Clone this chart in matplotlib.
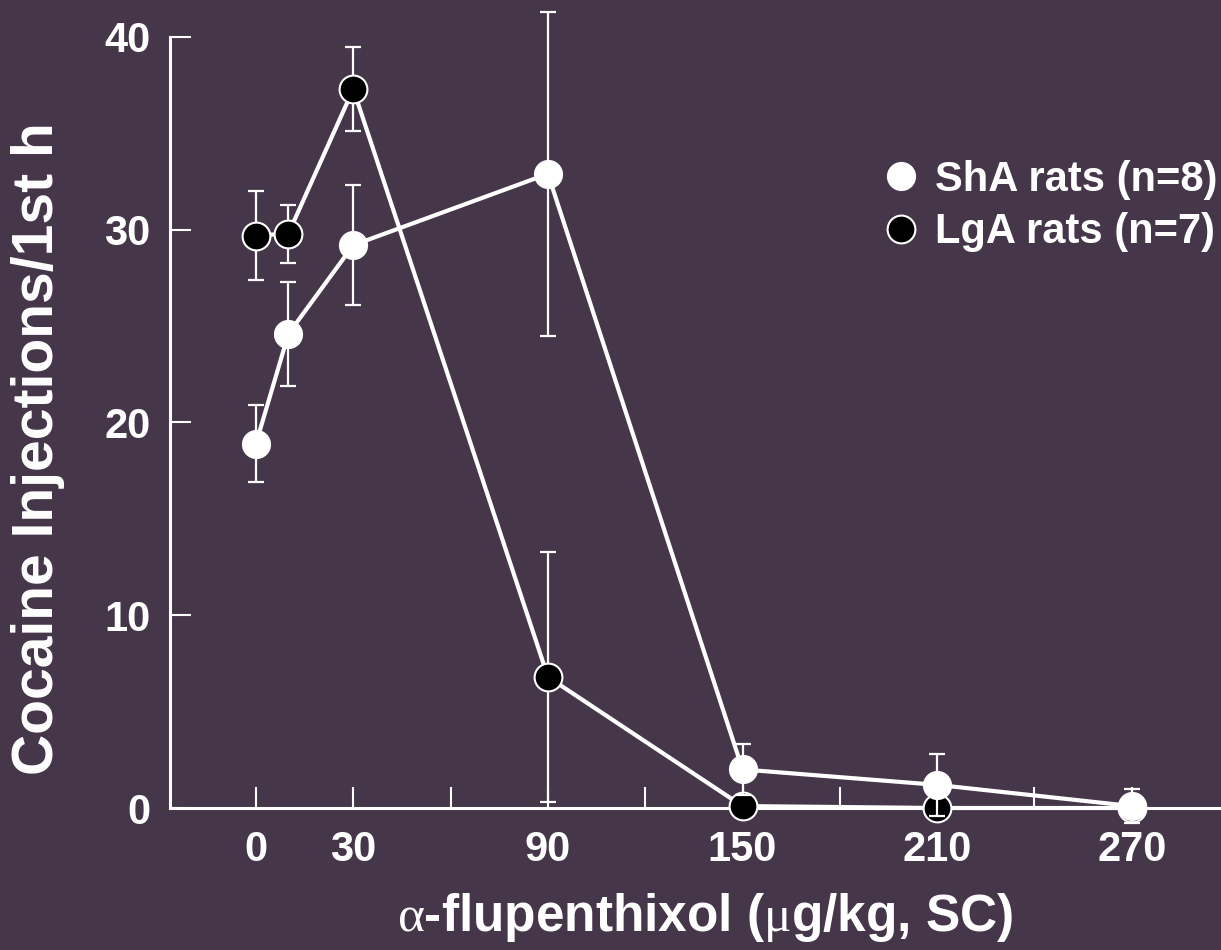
import numpy as np
import matplotlib
matplotlib.use("Agg")
import matplotlib.pyplot as plt
from matplotlib.lines import Line2D

# dose of alpha-flupenthixol (ug/kg, SC)
dose = [0, 10, 30, 90, 150, 210, 270]

# short access rats (white)
sha_mean = [18.9, 24.6, 29.2, 32.9, 2.0, 1.2, 0.1]
sha_sem = [2.0, 2.7, 3.1, 8.4, 1.3, 1.6, 0.9]

# long access rats (black)
lga_mean = [29.7, 29.8, 37.3, 6.8, 0.1, 0.0, 0.0]
lga_sem = [2.3, 1.5, 2.2, 6.5, 0.0, 0.0, 0.0]

xticks = [0, 30, 60, 90, 120, 150, 180, 210, 240, 270]
xticklabels = ["0", "30", "", "90", "", "150", "", "210", "", "270"]
yticks = [0, 10, 20, 30, 40]

bg = "#46364a"
fg = "white"

plt.rcParams["font.family"] = ["Liberation Sans", "DejaVu Sans"]
# greek letters upright, times-like
plt.rcParams["mathtext.fontset"] = "custom"
plt.rcParams["mathtext.rm"] = "Liberation Serif"
plt.rcParams["mathtext.it"] = "Liberation Serif:italic"
plt.rcParams["mathtext.bf"] = "Liberation Serif:bold"

fig = plt.figure(figsize=(12.21, 9.5), dpi=100, facecolor=bg)
ax = fig.add_axes([170 / 1221, 142 / 950, 1051 / 1221, 771 / 950])
ax.set_facecolor(bg)

# long access first so short access sits on top
ax.errorbar(dose, lga_mean, yerr=lga_sem, fmt="none", ecolor=fg, elinewidth=1.6,
            capsize=6, capthick=1.6, clip_on=False, zorder=2)
ax.plot(dose, lga_mean, color=fg, lw=3, marker="o", ms=20, mfc="black",
        mec=fg, mew=1.5, clip_on=False, zorder=3)

ax.errorbar(dose, sha_mean, yerr=sha_sem, fmt="none", ecolor=fg, elinewidth=1.6,
            capsize=6, capthick=1.6, clip_on=False, zorder=4)
ax.plot(dose, sha_mean, color=fg, lw=3, marker="o", ms=21, mfc=fg,
        mec=fg, mew=0, clip_on=False, zorder=5)

ax.set_xlim(-26.5, 297.5)
ax.set_ylim(0, 40)

for s in ["top", "right"]:
    ax.spines[s].set_visible(False)
for s in ["left", "bottom"]:
    ax.spines[s].set_color(fg)
    ax.spines[s].set_linewidth(2.2)

ax.set_xticks(xticks)
ax.set_xticklabels(xticklabels)
ax.set_yticks(yticks)
ax.tick_params(axis="both", direction="in", length=15, width=1.5, color=fg,
               labelcolor=fg, labelsize=30)
ax.tick_params(axis="x", pad=16)
ax.tick_params(axis="y", pad=14)
for lab in ax.get_xticklabels() + ax.get_yticklabels():
    lab.set_fontweight("bold")

ax.set_xlabel(r"$\mathrm{α}$-flupenthixol ($\mathrm{μ}$g/kg, SC)", color=fg,
              fontsize=37, fontweight="bold")
ax.xaxis.set_label_coords((705 - 170) / 1051, -(918 - 808) / 771)
ax.xaxis.label.set_va("center")
ax.set_ylabel("Cocaine Injections/1st h", color=fg, fontsize=41,
              fontweight="bold")
ax.yaxis.set_label_coords(-(170 - 38) / 1051, (808 - 449) / 771)
ax.yaxis.label.set_va("center")

handles = [
    Line2D([], [], ls="none", marker="o", ms=21, mfc=fg, mec=fg, mew=0),
    Line2D([], [], ls="none", marker="o", ms=20, mfc="black", mec=fg, mew=1.5),
]
leg = fig.legend(handles, ["ShA rats (n=8)", "LgA rats (n=7)"],
                 loc="upper right", bbox_to_anchor=(1 - 4 / 1221, 1 - 160 / 950),
                 frameon=False, fontsize=30, handletextpad=0.35,
                 labelspacing=0.3, borderpad=0.0, borderaxespad=0.0,
                 handlelength=0.9)
for t in leg.get_texts():
    t.set_color(fg)
    t.set_fontweight("bold")

fig.savefig("out.png", dpi=100, facecolor=bg)
